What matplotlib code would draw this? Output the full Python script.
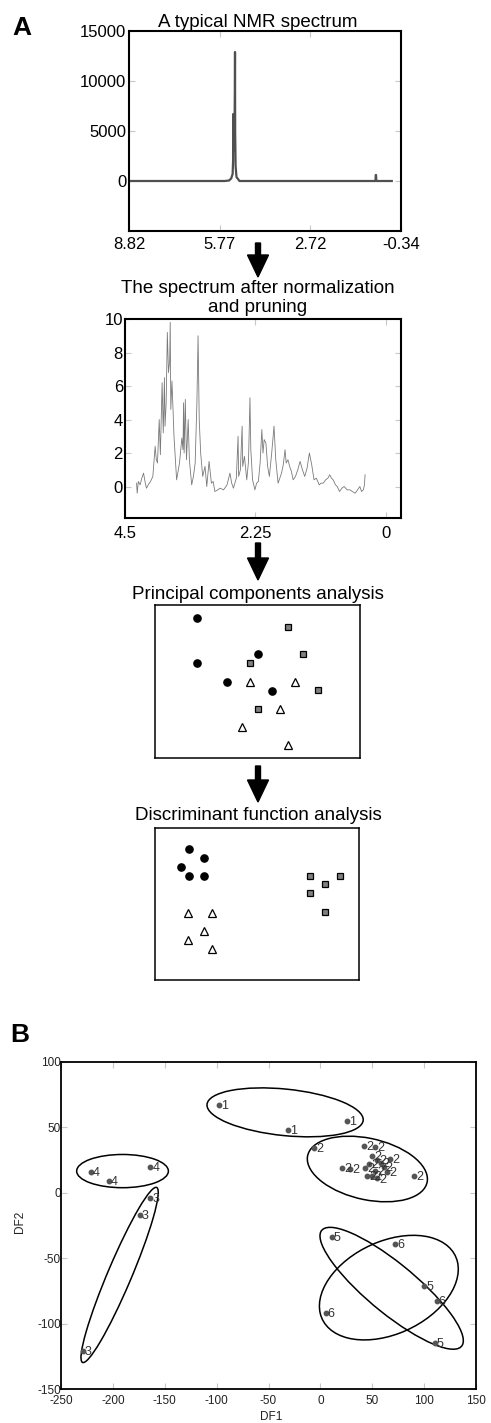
import numpy as np
import matplotlib.pyplot as plt
from matplotlib.patches import Ellipse, FancyArrow
from matplotlib.transforms import IdentityTransform

plt.rcParams['font.family'] = ['Liberation Sans', 'DejaVu Sans']
plt.rcParams['axes.unicode_minus'] = False

# --- raw NMR spectrum (ppm, intensity) ---
raw_ppm = [8.82, 5.60, 5.45, 5.38, 5.33, 5.315, 5.31, 5.30, 5.27, 5.255,
           5.25, 5.245, 5.23, 5.20, 5.10, 0.52, 0.51, 0.50, 0.49, -0.03]
raw_int = [0, 0, 50, 250, 700, 2000, 6700, 3000, 4000, 9000,
           12900, 5000, 1500, 400, 0, 0, 600, 600, 0, 0]

# --- normalized / pruned spectrum ---
norm_ppm = [4.30, 4.29, 4.27, 4.24, 4.21, 4.18, 4.15, 4.13, 4.10, 4.06,
            4.02, 3.98, 3.96, 3.94, 3.91, 3.89, 3.86, 3.84, 3.82, 3.81,
            3.79, 3.77, 3.75, 3.73, 3.72, 3.71, 3.69, 3.655, 3.63, 3.61,
            3.56, 3.52, 3.50, 3.49, 3.48, 3.46, 3.44, 3.41, 3.39, 3.35,
            3.32, 3.29, 3.26, 3.24, 3.22, 3.195, 3.16, 3.12, 3.09, 3.05,
            3.01, 2.98, 2.95, 2.90, 2.86, 2.80, 2.74, 2.69, 2.66, 2.63,
            2.58, 2.55, 2.54, 2.51, 2.48, 2.47, 2.44, 2.40, 2.37, 2.345,
            2.33, 2.30, 2.26, 2.23, 2.20, 2.17, 2.14, 2.12, 2.10, 2.07,
            2.04, 2.01, 1.97, 1.93, 1.90, 1.86, 1.83, 1.80, 1.77, 1.74,
            1.72, 1.69, 1.66, 1.63, 1.60, 1.56, 1.52, 1.48, 1.44, 1.40,
            1.36, 1.32, 1.28, 1.24, 1.20, 1.15, 1.12, 1.08, 1.04, 1.00,
            0.97, 0.94, 0.91, 0.87, 0.84, 0.80, 0.76, 0.72, 0.67, 0.62,
            0.58, 0.53, 0.49, 0.45, 0.42, 0.39, 0.37, 0.36]
norm_val = [0.2, -0.4, 0.3, 0.1, 0.5, 0.8, 0.2, -0.1, 0.1, 0.3,
            0.6, 2.4, 1.6, 1.4, 4.0, 1.9, 6.2, 3.2, 6.5, 3.6,
            5.0, 9.2, 6.8, 7.5, 9.8, 4.6, 6.3, 3.0, 1.5, 0.4,
            1.4, 2.9, 2.2, 5.0, 2.0, 5.2, 1.6, 4.0, 1.6, 0.1,
            0.6, 1.4, 5.0, 9.0, 4.0, 2.0, 0.6, 1.2, 0.0, 1.5,
            0.2, 0.3, -0.3, -0.2, -0.1, -0.2, 0.1, 0.8, 0.2, -0.1,
            0.5, 3.0, 0.6, 1.0, 3.6, 1.2, 1.8, 0.4, 1.5, 5.3,
            2.2, 0.4, -0.2, 0.2, 0.3, 1.4, 3.4, 2.0, 2.8, 2.6,
            1.2, 0.6, 2.0, 3.6, 1.6, 0.2, 0.5, 0.8, 1.3, 2.2,
            1.4, 1.6, 1.2, 0.9, 0.4, 0.6, 1.0, 1.5, 1.0, 0.6,
            1.1, 2.0, 1.3, 0.4, 0.5, 0.1, 0.2, 0.2, 0.4, 0.5,
            0.7, 0.5, 0.4, 0.1, 0.0, -0.3, -0.1, 0.0, -0.2, -0.2,
            -0.3, -0.4, -0.2, 0.0, -0.3, -0.2, 0.1, 0.7]

# --- schematic PCA scores (arbitrary units) ---
pca_circ_x = [20.4, 20.4, 50.2, 35.0, 57.3]
pca_circ_y = [91.7, 61.8, 67.7, 49.8, 43.9]
pca_sq_x = [64.8, 72.0, 46.3, 79.6, 50.0]
pca_sq_y = [85.8, 67.7, 61.8, 44.3, 32.3]
pca_tri_x = [46.3, 68.5, 61.0, 42.5, 64.8]
pca_tri_y = [49.8, 49.8, 31.9, 20.3, 8.3]

# --- schematic DFA scores ---
dfa_circ_x = [16.6, 24.1, 12.7, 16.6, 24.1]
dfa_circ_y = [86.2, 80.0, 74.3, 68.1, 68.1]
dfa_sq_x = [75.9, 90.9, 83.4, 75.9, 83.4]
dfa_sq_y = [68.6, 68.6, 63.1, 57.1, 44.6]
dfa_tri_x = [16.4, 27.9, 24.1, 16.4, 27.9]
dfa_tri_y = [44.4, 44.4, 32.5, 26.4, 20.4]

# --- panel B: DF scores per group ---
groups = ['1', '2', '3', '4', '5', '6']
df1 = {
    '1': [-98, -31, 26],
    '2': [-6, 42, 53, 50, 67, 21, 29, 43, 47, 58, 61, 64, 45, 50, 55, 90, 53, 55],
    '3': [-164, -174, -229],
    '4': [-221, -204, -164],
    '5': [11, 100, 110],
    '6': [72, 112, 5],
}
df2 = {
    '1': [67, 48, 55],
    '2': [34, 36, 35, 28, 26, 19, 18, 19, 22, 23, 20, 16, 13, 13, 11, 13, 17, 25],
    '3': [-4, -17, -121],
    '4': [16, 9, 20],
    '5': [-34, -71, -115],
    '6': [-39, -83, -92],
}
# confidence ellipses: centre x, centre y, width, height, angle (data space)
ell_cx = [-34, 45.3, -193.5, -190.7, 68.7, 66]
ell_cy = [61.5, 18.2, -62.8, 16.6, -73, -72.5]
ell_w = [151, 117, 151.7, 88.4, 161.6, 138]
ell_h = [35.6, 47.2, 22.1, 25.4, 40.8, 72.6]
ell_ang = [-4.5, -9.1, 61.7, 0, -32.4, 16.6]

W, H = 491, 1423


def rect(l, t, r, b):
    return [l / W, 1 - b / H, (r - l) / W, (b - t) / H]


def boxed(ax, lw):
    for s in ax.spines.values():
        s.set_linewidth(lw)
        s.set_color('black')


def arrow(fig, y0, y1, x=258):
    a = FancyArrow(x, H - y0, 0, -(y1 - y0), width=5, head_width=21,
                   head_length=22, length_includes_head=True,
                   color='black', transform=IdentityTransform())
    fig.add_artist(a)


fig = plt.figure(figsize=(W / 100, H / 100), dpi=100)

# ---------- A: raw spectrum ----------
ax1 = fig.add_axes(rect(129, 31, 401, 231))
ax1.plot(raw_ppm, raw_int, color='#505050', lw=1.6)
ax1.set_xlim(8.82, -0.34)
ax1.set_ylim(-5000, 15000)
ax1.set_xticks([8.82, 5.77, 2.72, -0.34])
ax1.set_xticklabels(['8.82', '5.77', '2.72', '-0.34'])
ax1.set_yticks([0, 5000, 10000, 15000])
ax1.set_yticklabels(['0', '5000', '10000', '15000'])
boxed(ax1, 1.5)
ax1.tick_params(direction='in', top=True, right=True, color='#c8c8c8',
                length=4, labelsize=12)
ax1.tick_params(axis='x', pad=4)
ax1.tick_params(axis='y', pad=2)
fig.text(258 / W, 1 - 27 / H, 'A typical NMR spectrum', ha='center',
         va='baseline', fontsize=13.5)
fig.text(12 / W, 1 - 35 / H, 'A', fontsize=19, fontweight='bold',
         va='baseline')

arrow(fig, 243, 277)

# ---------- normalized spectrum ----------
ax2 = fig.add_axes(rect(125, 319, 401, 518))
ax2.plot(norm_ppm, norm_val, color='#7a7a7a', lw=0.6)
ax2.set_xlim(4.5, -0.26)
ax2.set_ylim(-1.88, 10)
ax2.set_xticks([4.5, 2.25, 0])
ax2.set_xticklabels(['4.5', '2.25', '0'])
ax2.set_yticks([0, 2, 4, 6, 8, 10])
boxed(ax2, 1.5)
ax2.tick_params(direction='in', top=True, right=True, color='#c8c8c8',
                length=4, labelsize=12)
ax2.tick_params(axis='x', pad=6)
ax2.tick_params(axis='y', pad=1.5)
fig.text(258 / W, 1 - 293 / H, 'The spectrum after normalization',
         ha='center', va='baseline', fontsize=13.5)
fig.text(258 / W, 1 - 311.5 / H, 'and pruning', ha='center', va='baseline',
         fontsize=13.5)

arrow(fig, 543, 580)

# ---------- PCA ----------
ax3 = fig.add_axes(rect(155, 605, 360, 758))
ax3.plot(pca_circ_x, pca_circ_y, 'o', color='black', ms=5.2)
ax3.plot(pca_sq_x, pca_sq_y, 's', mfc='#808080', mec='black', mew=0.9, ms=4.8)
ax3.plot(pca_tri_x, pca_tri_y, '^', mfc='white', mec='black', mew=0.9, ms=5.2)
ax3.set_xlim(0, 100)
ax3.set_ylim(0, 100)
ax3.set_xticks([])
ax3.set_yticks([])
boxed(ax3, 1.1)
fig.text(258 / W, 1 - 599 / H, 'Principal components analysis',
         ha='center', va='baseline', fontsize=13.5)

arrow(fig, 766, 802)

# ---------- DFA ----------
ax4 = fig.add_axes(rect(155, 828, 359, 980))
ax4.plot(dfa_circ_x, dfa_circ_y, 'o', color='black', ms=5.2)
ax4.plot(dfa_sq_x, dfa_sq_y, 's', mfc='#808080', mec='black', mew=0.9, ms=4.8)
ax4.plot(dfa_tri_x, dfa_tri_y, '^', mfc='white', mec='black', mew=0.9, ms=5.2)
ax4.set_xlim(0, 100)
ax4.set_ylim(0, 100)
ax4.set_xticks([])
ax4.set_yticks([])
boxed(ax4, 1.1)
fig.text(258 / W, 1 - 820 / H, 'Discriminant function analysis',
         ha='center', va='baseline', fontsize=13.5)

# ---------- B ----------
ax5 = fig.add_axes(rect(61, 1062, 476, 1389))
for g in groups:
    ax5.plot(df1[g], df2[g], 'o', color='#555555', ms=3.2, zorder=3)
    for x, y in zip(df1[g], df2[g]):
        ax5.annotate(g, (x, y), xytext=(1.5, -0.8), textcoords='offset points',
                     ha='left', va='center', fontsize=9, color='#333333')
for cx, cy, w, h, a in zip(ell_cx, ell_cy, ell_w, ell_h, ell_ang):
    ax5.add_patch(Ellipse((cx, cy), w, h, angle=a, fill=False,
                          ec='black', lw=1.1))
ax5.set_xlim(-250, 150)
ax5.set_ylim(-150, 100)
ax5.set_xticks(np.arange(-250, 151, 50))
ax5.set_yticks(np.arange(-150, 101, 50))
boxed(ax5, 1.3)
ax5.tick_params(direction='in', top=True, right=True, color='#c8c8c8',
                length=4, labelsize=8.5, labelcolor='#222222')
ax5.tick_params(axis='x', pad=4)
ax5.tick_params(axis='y', pad=0)
ax5.set_xlabel('DF1', fontsize=8.5, color='#222222')
ax5.set_ylabel('DF2', fontsize=8.5, color='#222222')
ax5.xaxis.set_label_coords(0.506, -0.066)
ax5.yaxis.set_label_coords(-0.085, 0.51)
fig.text(10 / W, 1 - 1042 / H, 'B', fontsize=19, fontweight='bold',
         va='baseline')

fig.savefig('out.png', dpi=100)
